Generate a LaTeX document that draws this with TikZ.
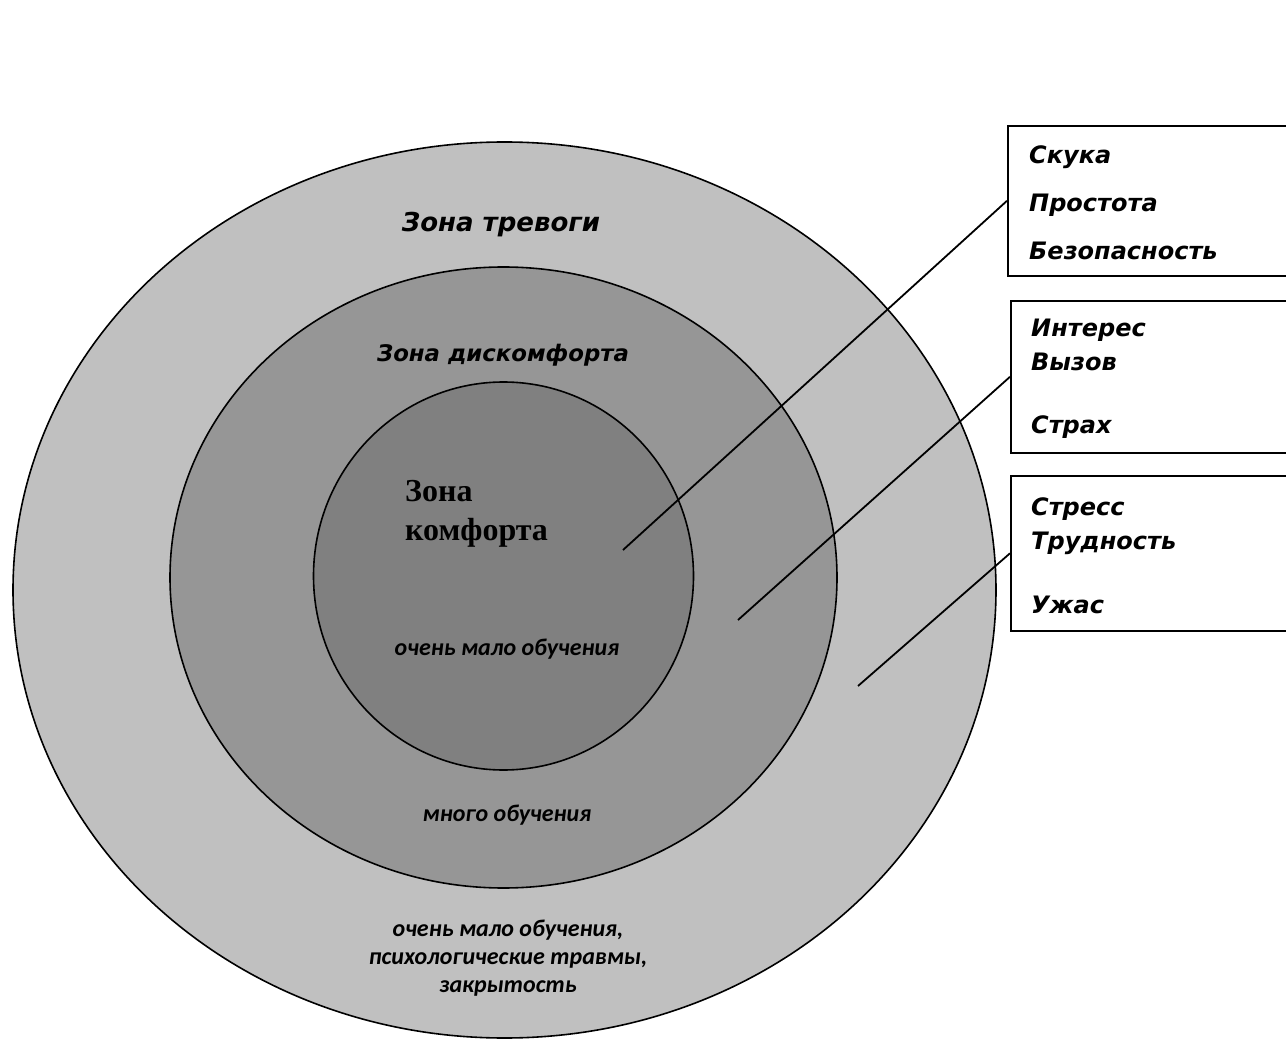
\documentclass[tikz,border=0pt]{standalone}
\usepackage{fontspec}
\setmainfont{DejaVu Sans}
\newfontfamily\gothic{DejaVu Sans}
\newfontfamily\calib{Carlito}
\newfontfamily\tnr{Liberation Serif}
\usetikzlibrary{shapes.geometric}
\definecolor{ringA}{HTML}{C0C0C0}
\definecolor{ringB}{HTML}{969696}
\definecolor{ringC}{HTML}{808080}
\tikzset{
  zone/.style={ellipse, draw=black, line width=1.6pt, inner sep=0pt},
  sidebox/.style={draw=black, line width=1.6pt, inner sep=0pt, anchor=north west},
  link/.style={draw=black, line width=1.8pt},
  zonelabel/.style={font=\gothic\bfseries\itshape\fontsize{26}{30}\selectfont, inner sep=0pt},
  boxtext/.style={font=\gothic\bfseries\itshape\fontsize{24}{28}\selectfont, inner sep=0pt, anchor=base west},
  smalltext/.style={font=\calib\bfseries\itshape\fontsize{24}{28}\selectfont, inner sep=0pt, align=center},
  serifzone/.style={font=\tnr\bfseries\fontsize{32}{39}\selectfont, inner sep=0pt, align=left, anchor=north west}
}
\begin{document}
\begin{tikzpicture}[x=1pt,y=-1pt]
\useasboundingbox (0,0) rectangle (1286,1040);
\clip (0,0) rectangle (1286,1040);
% zones
\node[zone, fill=ringA, minimum width=983pt, minimum height=896pt] (outer) at (504.5,590) {};
\node[zone, fill=ringB, minimum width=667pt, minimum height=621pt] (middle) at (503.5,577.5) {};
\node[zone, fill=ringC, minimum width=380pt, minimum height=388pt] (inner) at (503.5,576) {};
% labels in zones
\node[zonelabel] (t1) at (501,225) {Зона тревоги};
\node[zonelabel, font=\gothic\bfseries\itshape\fontsize{22.8}{26}\selectfont] (t2) at (503,355) {Зона дискомфорта};
\node[serifzone] (t3) at (405,480) {Зона\\комфорта};
\node[smalltext] (t4) at (507,649) {очень мало обучения};
\node[smalltext] (t5) at (507,815) {много обучения};
\node[smalltext] (t6) at (508,958) {очень мало обучения,\\психологические травмы,\\закрытость};
% boxes
\node[sidebox, minimum width=320pt, minimum height=150pt] (b1) at (1007,125) {};
\node[sidebox, minimum width=320pt, minimum height=152pt] (b2) at (1010,300) {};
\node[sidebox, minimum width=320pt, minimum height=155pt] (b3) at (1010,475) {};
% box texts
\node[boxtext] (s1) at (1029,164) {Скука};
\node[boxtext] (s2) at (1029,212) {Простота};
\node[boxtext] (s3) at (1029,260) {Безопасность};
\node[boxtext] (s4) at (1031,337) {Интерес};
\node[boxtext] (s5) at (1031,371) {Вызов};
\node[boxtext] (s6) at (1031,434) {Страх};
\node[boxtext] (s7) at (1031,516) {Стресс};
\node[boxtext] (s8) at (1031,549) {Трудность};
\node[boxtext] (s9) at (1031,613) {Ужас};
% connectors
\coordinate (p1) at (623,550);
\coordinate (p2) at (738,620);
\coordinate (p3) at (858,686);
\draw[link] (p1) -- (b1.west);
\draw[link] (p2) -- (b2.west);
\draw[link] (p3) -- (b3.west);
\end{tikzpicture}
\end{document}
